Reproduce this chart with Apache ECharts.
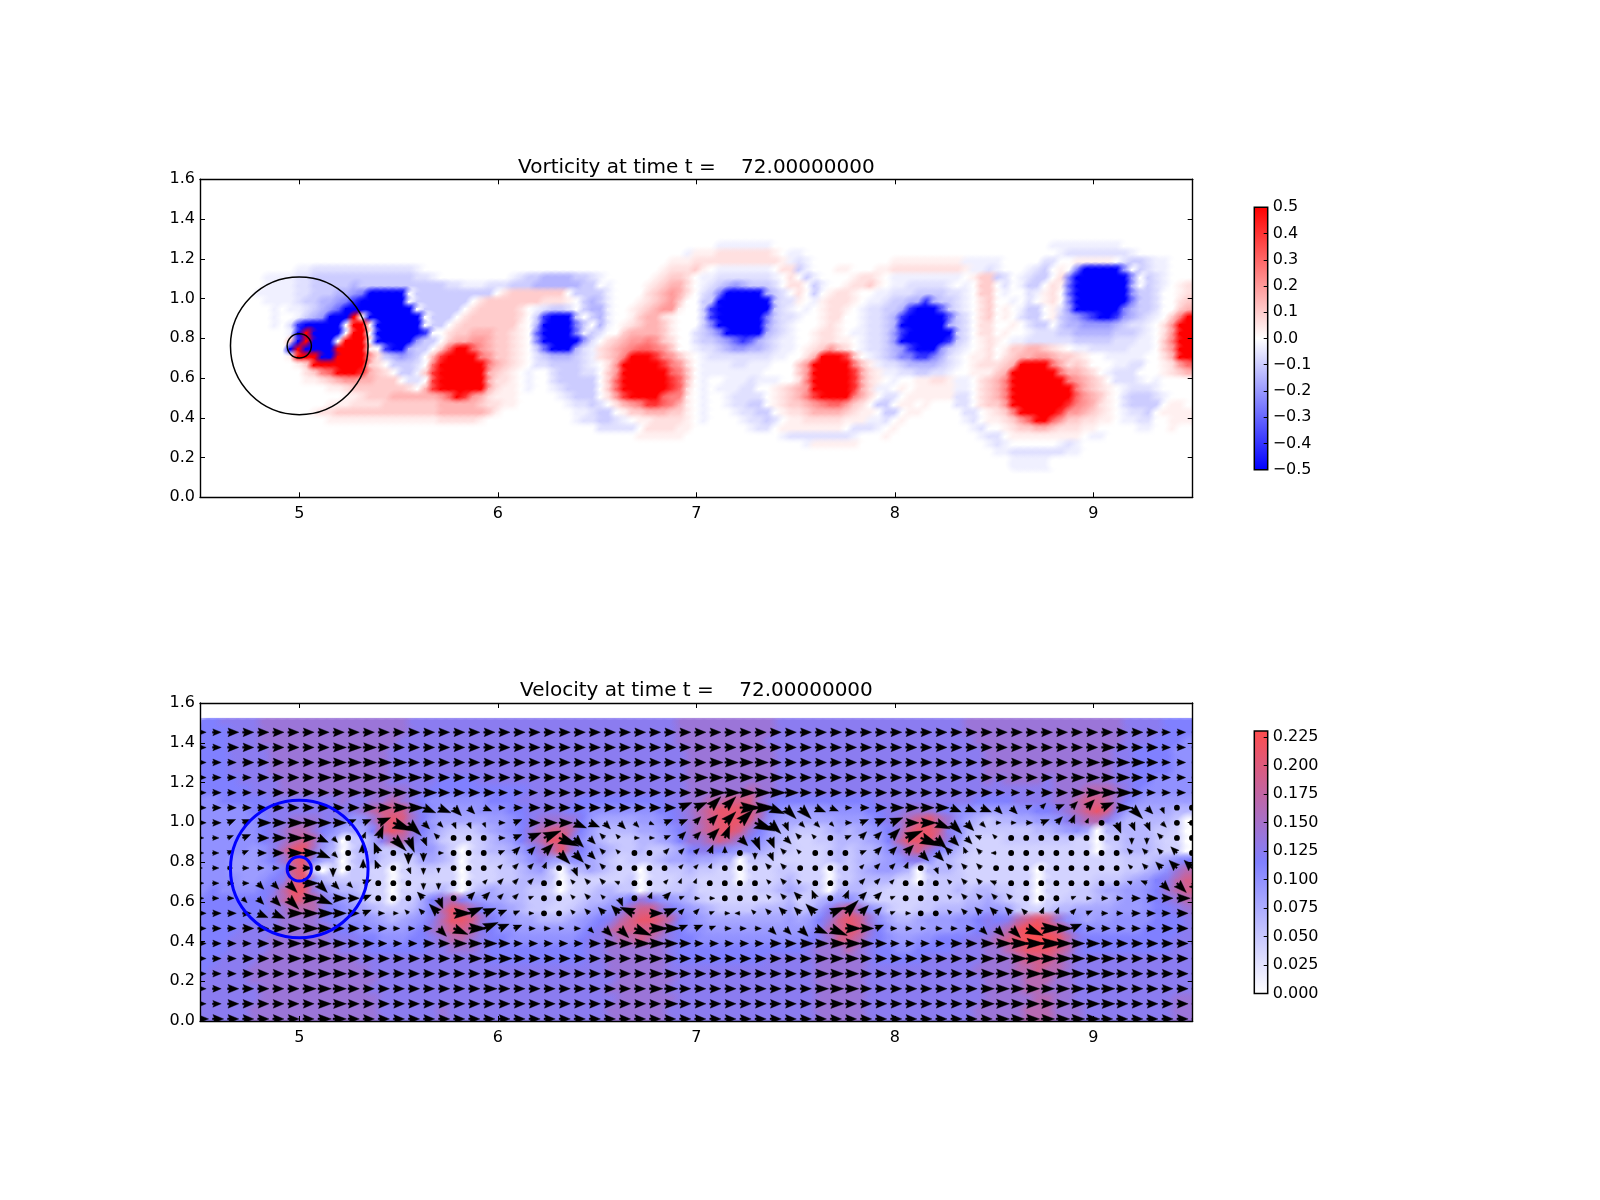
<!DOCTYPE html>
<html>
<head>
<meta charset="utf-8">
<title>Vorticity and velocity</title>
<script src="https://cdn.jsdelivr.net/npm/echarts@6/dist/echarts.min.js"></script>
<style>
	html, body { margin: 0; background: #fff; }
	#chart { width: 1600px; height: 1200px; }
</style>
</head>
<body>
<div id="chart"></div>
<script>
let vorticity_title = 'Vorticity at time t =    72.00000000';
let velocity_title = 'Velocity at time t =    72.00000000';
let x_ticks = [5, 6, 7, 8, 9];
let y_ticks = [0, 0.2, 0.4, 0.6, 0.8, 1.0, 1.2, 1.4, 1.6];
let vorticity_ticks = [-0.5, -0.4, -0.3, -0.2, -0.1, 0, 0.1, 0.2, 0.3, 0.4, 0.5];
let speed_ticks = [0, 0.025, 0.05, 0.075, 0.1, 0.125, 0.15, 0.175, 0.2, 0.225];
let vorticity_colors = ['#0000ff', '#ffffff', '#ff0000'];
let speed_colors = ['#ffffff', '#8080ff', '#ff4d4d'];
let black_circles = [[5, 0.762, 0.3465], [5, 0.762, 0.061]];
let blue_circles = [[5, 0.765, 0.3465], [5, 0.765, 0.061]];

// 涡量: 每个字符一格 0.04x0.04, 每组 5 格, 从 y=1.28 往下
let vorticity_levels = {
	'.': 0, 1: 0.03, 2: 0.06, 3: 0.1, 4: 0.15, 5: 0.2, 6: 0.25, 7: 0.3, 8: 0.4, 9: 0.5,
	a: -0.03, b: -0.06, c: -0.1, d: -0.15, e: -0.2, f: -0.25, g: -0.3, h: -0.4, i: -0.5,
};
let vorticity_rows = [
	'..... ..... ..... ..... ..... ..... ..... ..... ..... ..... ..... ..... ..... aaaaa aa... ..... ..... ..... ..... ..... ..... ..aaa aaaaa a.... .....',
	'..... ..... ..... ..... ..... ..... ..... ..... ..... ..... ..... ..... .a111 22222 221.a a.... ..... ..... ..... ..... ..... ...ab bbbbb bba.. .....',
	'..... ..... ..... ..... ..... ..... ..... ..... ..... ..... ..... ....1 11222 22222 2221a ba... ..... ..111 11111 1aaaa a.... .bb.. 11111 .bccb aa...',
	'..... ..... ..aab bbbbb bbbbb bba.. ..... ..... ..... ..... ..... ...12 2231. aaaaa aa.22 ca... 11... 11222 22222 21aab a...a bc.1. fiiii ie.cb aa...',
	'..... ...aa aabbc ccccc ccccc ccbba ..... ....a bccdd ddccb a.... ..123 32.aa bbbbb bba.2 .ca.. ..122 1.aaa aaaaa a.133 cb.ab cc.2f iiiii iie.c ba...',
	'..... ...aa aabbc ccccd ccccc ccccc cbbaa abbbc ccddd dddcc .a... .1234 42.ab cdedc ccb.2 2.ca. .1223 1.aab bbbba .a.33 .b.ac c.21g iiiii iid.c ba.12',
	'..... ..aaa aabbc ccdde fiiii i.ccc ccccc cc.23 33333 3.ccc ca... .2345 42.bc fiiii idcb. 2.c.1 221.. aabbb ccccb ba.33 .a..b a12.g iiiii iiecc b..12',
	'..... ...aa aabcc ddefh iiiii i.ccc cccc. 23333 33322 21.cd ca... 12345 3..cc iiiii iicbb 1.a12 221.a abccd dhdcc ba.23 ..a.b .12.f iiiii iifcc b..23',
	'..... ....a .aabc degii iiiii ii.cc ccc.2 33333 2.abc cb.cd da..1 23455 1..ch iiiii iicba .a.12 21.ab bccdh iiigc ba.23 .1.ac c.1be iiiii ifdcc b..34',
	'..... ....a ..acd eiii9 .iiii iii.c cc.23 33333 2.chi iic.c da..1 34421 ...ch iiiii ifcbb a..12 2..ab bcdhi iiiig cb.23 .1.bc c.1cd eghii hedcb a.369',
	'..... ....a .bhii iii.9 9.iii iii.c c.233 33333 1.dii iifc. da.12 34431 ...cf iiiii iecba ...12 1..ab bcdii iiiid cb.22 ..1.b cc.cd deeee dcbba .2599',
	'..... ..... .ai9i iii.9 9.iii iiih. .2334 44332 1.gii iifac b..34 44431 ..bcd fiiii idcba ..122 1.aab bcehi iiiii cb.22 .1..a bbbcc ddddd cccba .2599',
	'..... ..... .3i9i ii.99 9.iii iiecc .3445 54332 1.fii iiieb .2345 56532 ..bcc deghg dcbaa ..122 11.ab bceii iiiih cb.12 1.aab bbbbb ccccc bbbaa .3699',
	'..... ..... .i9ii ii999 91.hi idcc. 37997 54332 1.cgi iidba 23456 77653 ..abb cdeed dcbaa .1235 32.ab bcdeh iiiec ba.12 .1334 4321. aabbb bbaaa .3599',
	'..... ..... .1999 ii999 952cd edc.4 89999 65332 1.bcd ddcba 23469 99865 31.ab bbbbb bbaa. .2499 983.a bcdff hhfdb a.112 .2344 55433 21..a aaaa. .2499',
	'..... ..... ..139 99999 932.c ccb.7 99999 96432 1.bbc cccba .2599 99986 52.aa aabba aa... 35999 99631 abbcd dddcb a.122 23499 99642 32... aabb. .1257',
	'..... ..... ...23 67999 8432. cca38 99999 94321 .a..b cccbb .3599 99997 63.aa aaaaa a.... 35999 99842 1aabb ccbba ..111 34999 99964 432.a bbb.. .1234',
	'..... ..... ...11 23455 44333 .bb.8 99999 94221 .a..b ccccc .3799 99998 73.a. .aaab aaa.. 26999 99842 1.a.. 11221 aa.23 46999 99996 5432. bbba. a....',
	'..... ..... ..... .1123 33333 32.48 99999 94211 .a..a bcccc .3799 99998 72.a. aaabb ..123 45999 99842 aa.1. 11111 aa.23 46999 99999 64321 .abbb a....',
	'..... ..... ..... ...11 23334 44444 57985 42111 ..... abccc .2589 99976 61.a. .abbb b.123 46899 99642 .bb.1 11111 bb.23 46999 99999 75431 .bccc ba...',
	'..... ..... ..... .1112 22233 33333 44444 32211 ..... .abbc b.245 68876 41.a. .abbc c.123 34567 7532. cc.11 .1... bb.23 35999 99998 65421 .bccc c.11.',
	'..... ..... ....1 22333 33333 33333 44444 431.. ..... ..aab cc.13 34443 31.a. ..abb cc.12 23444 43211 .cc.1 1.... .bb.1 23699 99985 54321 .abbc .1111',
	'..... ..... ..... .1111 11111 11111 22222 1.... ..... ..abb ccba. 11222 21.a. ...ab bcb.1 12222 2111a ab.1. ..... .ab.1 12357 99753 32211 .aabb ..111',
	'..... ..... ..... ..... ..... ..... ..... ..... ..... ..... bbbbb .2222 11... ....a bb.11 11111 1.bbb a.1.. ..... ..ab. .1233 44322 211.. ...aa ..1..',
	'..... ..... ..... ..... ..... ..... ..... ..... ..... ..... ..... 11111 1.... ..... ...ab bbbbb bba.. .1... ..... ...ab b.111 11111 1.aa. ..... .....',
	'..... ..... ..... ..... ..... ..... ..... ..... ..... ..... ..... ..... ..... ..... ..... .a111 111.. ..... ..... ....a ba... ...ab a.... ..... .....',
	'..... ..... ..... ..... ..... ..... ..... ..... ..... ..... ..... ..... ..... ..... ..... ..... ..... ..... ..... ..... aabbb bbbba a.... ..... .....',
	'..... ..... ..... ..... ..... ..... ..... ..... ..... ..... ..... ..... ..... ..... ..... ..... ..... ..... ..... ..... ..aaa aa... ..... ..... .....',
];

// 速度大小: 每个字符一格 0.05x0.05, 每组 5 格, 从 y=1.525 往下
let speed_levels = {
	z: 0, 0: 0.04, 1: 0.05, 2: 0.065, 3: 0.08, 4: 0.09, 5: 0.1, 6: 0.115, 7: 0.125, 8: 0.14, 9: 0.165, a: 0.19, b: 0.21, c: 0.225,
};
let speed_rows = [
	'66777 78888 88888 88888 87777 77777 77777 77777 77777 77788 88888 88877 77777 77777 77777 77888 88888 88888 88877 77666',
	'66677 78888 88888 88888 87777 77777 77777 77777 77777 77788 88888 88877 77777 77777 77777 77888 88888 88888 88877 77666',
	'66677 78888 88888 88888 77777 77777 77777 77777 77777 77788 88888 88777 77777 77777 77777 77788 88888 88888 88877 76665',
	'66677 77888 88888 88887 77777 77777 77777 77777 77777 77778 88888 88877 77777 77777 77777 77778 88888 88888 88776 66655',
	'66677 77888 88888 88887 77777 77777 77777 77777 77777 77778 88888 88877 77777 77777 77777 77778 88888 88888 88776 66655',
	'66677 77888 88888 88887 77777 77777 77777 77777 77777 77778 88888 88877 77777 77777 77777 77778 88888 88888 88776 66655',
	'66667 77788 88888 88887 77776 66677 77777 77777 77777 77778 88888 88877 77777 77777 77777 77778 78888 78888 88776 65555',
	'66666 77788 88888 88888 87766 66666 66677 77777 77777 77778 88888 98877 77777 77777 77777 77777 77777 78889 99876 55555',
	'55666 66777 77778 77889 87655 55556 66777 77766 66666 66778 899aa a8766 66666 66677 77777 77766 66777 7889a a9865 44444',
	'55555 66777 77777 789aa a8654 44455 56677 77665 55555 56678 9abbb a9654 44455 55667 78887 65544 44556 6789a ba743 33322',
	'55555 56778 88776 458ab a8643 33334 45678 88864 33334 45678 9abbb a8543 33334 44567 89ab9 85321 22334 45789 97422 2221z',
	'55555 56789 98653 336ab a8642 11123 45689 aa964 22223 34568 9abba 86422 11123 23456 8abba 75211 11112 23453 z2222 2110z',
	'55555 56789 a953z 11379 97531 00012 34689 bb753 21112 23468 89a98 65321 00112 22346 9bbb9 74100 01111 11100 z1122 2100z',
	'55555 4579b b842z 12311 24542 0z012 23468 9b864 32112 11236 77654 43211 00012 12235 79a86 42100 00000 00000 z0122 2100z',
	'55544 4568a b632z 12310 01332 1z001 12357 43553 21011 12334 3322z 11100 00012 12234 57752 21000 00000 00000 00011 12356',
	'55544 4456a b1z1z 1100z 00110 0z000 11234 1z223 2100z 00112 1100z 00011 000z1 12344 32z22 21000 0000z 00000 00011 23589',
	'55554 4567a b5211 1100z 00000 0z000 11222 1z000 0001z 00011 0000z 00012 000z1 12222 00z11 11000 0000z 00000 11123 4679a',
	'56555 5679b b8532 2100z 00112 0z123 22211 0z001 2211z 00112 00000 01123 210z2 22110 00011 12122 1100z 00011 23344 5689a',
	'66666 6689b a9754 3200z 11368 97543 32211 10012 23468 75432 10000 00012 01234 53100 00011 11223 2100z 00111 22344 56789',
	'66666 66789 99765 43211 12469 ba865 43211 00123 4579a a8654 32111 12223 12479 a8531 00112 22334 43100 12233 33444 56678',
	'66666 67788 88765 55432 34579 bba86 54332 22345 679ab ba965 43333 33334 3468a ba853 22344 45567 679ab a8543 44555 56667',
	'66667 77788 88876 65544 45689 aa976 55444 44456 79aaa a9765 54444 44444 4579a ba864 33344 45567 89bcc ba865 55555 66667',
	'66677 77888 88877 76655 56678 99876 65555 55567 7899a 98766 55555 55555 5678a a9765 44556 66778 9abcc cb976 66666 66677',
	'66677 77888 88887 77666 66677 88876 66666 66667 78888 88766 66666 66666 67888 98766 55666 67778 89abb ba976 66666 66677',
	'66777 78888 88888 87777 77777 77776 66666 66667 78888 88766 66666 66777 77888 88766 66677 77778 889aa a9877 77777 77777',
	'67777 88888 88888 88777 77777 77777 77777 77777 78888 88777 77777 77777 77888 88777 77777 77788 8899a 99877 77777 77777',
	'77777 88888 88888 88877 77777 77777 77777 77777 77888 88877 77777 77777 77888 88777 77777 77778 88899 98877 77777 77777',
	'77777 78888 88888 88777 77777 77777 77777 77777 78888 88777 77777 77777 77888 88777 77777 77778 88899 88877 77777 77777',
	'77777 78888 88888 88877 77777 77777 77777 77777 77888 88877 77777 77777 77888 88777 77777 77778 88889 98877 77777 77788',
	'77777 88888 88888 88877 77778 77777 77777 77777 78888 88777 77777 77777 77888 88777 77777 77788 88899 98887 77777 77788',
	'77777 88888 88888 88877 77778 77777 77777 77777 78888 88777 77777 77777 77888 88777 77777 77788 88899 98887 77777 77788',
];

// 箭头: 每个数字对应一档速度, 0 画成圆点; 方向 a=东, 每个字母逆时针转 22.5 度
let arrow_speeds = { 0: 0, 1: 0.055, 2: 0.07, 3: 0.095, 4: 0.122, 5: 0.145, 6: 0.17, 7: 0.2, 8: 0.235 };
let east_row = 'aaaaa aaaaa aaaaa aaaaa aaaaa aaaaa aaaaa aaaaa aaaaa aaaaa aaaaa aaaaa aaaaa aa';
let arrow_speed_rows = [
	'33444 44444 44444 44444 44444 44444 44444 44444 44444 44444 44444 44444 44443 33',
	'33444 44445 55444 44444 44444 44444 44444 45444 44444 44444 44444 44444 54443 33',
	'33344 44455 55554 44444 44444 44444 44445 55544 44444 44444 44444 44445 55543 33',
	'33334 44455 55555 44444 44444 44444 44455 55554 44444 44444 44444 44455 55443 33',
	'33333 44444 55555 54444 33344 44444 44456 66665 44444 44444 44433 34456 66433 32',
	'33333 44444 45566 55433 23444 44444 44556 68866 64323 45555 44433 22334 56632 00',
	'33335 56655 33587 32221 23455 54332 13334 67863 22123 45566 64211 23331 04332 00',
	'22234 56542 02576 32000 23578 53211 12335 54543 21023 35786 43210 00000 00222 00',
	'22223 46652 04404 31000 23356 53210 02223 20232 10002 33444 32210 00000 00222 30',
	'12122 23303 03302 21000 12220 32200 00111 00022 00001 22202 22200 00000 00123 44',
	'22223 35653 23000 22001 22200 12210 01110 00012 10002 21000 12220 00000 00124 55',
	'22223 46765 43000 34033 22100 12130 23111 00012 33033 31000 12222 00011 22344 55',
	'33334 56665 43211 25765 32100 12346 55221 11123 35674 31100 12333 22222 22333 44',
	'33344 55654 43322 34676 43221 22457 76332 22233 45765 32212 23345 78643 33334 44',
	'33334 45555 44333 44555 43333 34556 65433 33344 55665 43333 44567 78655 44444 44',
	'33344 45555 44444 44455 54444 44445 55444 44444 45554 44444 44556 66655 54444 44',
	'33344 44555 44444 44445 44444 44444 55444 44444 45554 44444 44555 66655 54444 44',
	'33444 44555 44444 44445 44444 44444 55444 44444 45554 44444 44555 55555 54444 44',
	'33444 44455 44444 44444 44444 44444 45444 44444 44544 44444 44555 55555 54444 44',
	'44444 44455 44444 44444 44444 44444 44444 44444 44444 44444 44455 55555 44444 44',
];
let arrow_dir_rows = [
	east_row, east_row, east_row, east_row, east_row,
	'aaaaa aaaaa aaaaa ppoop aaaaa aaaaa aabbc caapo oppaa aaaaa pppoo bcbcc baoon aa',
	'aabba aaaaa bbbpo oonnn abaaa ppooo pbbcc ccpon oooab bbaap oooaa abcdd annno aa',
	'aabba aaapo addon ngaaa abbbp oogga abccc donno ggabc ccbpo oohga aaaaa aammg aa',
	'aabba aaapo aefam maaaa bccco oogga acccd eamng gaaab cccoo gfgia aaaaa aaggg ga',
	'aaaaa aaaam aefan mmaaa cccda nggaa aaccd aaagg aaaac ccdan gggaa aaaaa aaggg gg',
	'aaaao ooaoo obaaa mmaac cccaa gggha acdda aaagg gaaac ccaaa gggha aaaaa aahho oo',
	'aaaoo ooapa abaaa gnacc ccbaa gggna dcbaa aaagg gfadc cbaaa ggggg aaaba aaaaa aa',
	'aaaap paaaa abaag ggabb bbaaa ggggh abccb aiggg ggbcc cbaaa ggggg gddcb aaaaa aa',
	'aaaaa aaaaa aaaaa aopab bbaaa aooop aabbb aaaoo oppaa baaaa aaooo paaba aaaaa aa',
	east_row, east_row, east_row, east_row, east_row, east_row,
];

let cell_x0 = 4.5;
let vorticity_cell = 0.04;
let vorticity_top = 1.28;
let speed_cell = 0.05;
let speed_top = 1.525;
let arrow_x0 = 4.487;
let arrow_step = 0.0759;
let arrow_top = 1.4526;
let arrow_px = 92; // 每单位速度对应的像素

// 把字符行展开成 [x, y, value]
function build_cells(rows, levels, cell, top) {
	let out = [];
	rows.forEach((row, j) => {
		row.split(' ').forEach((group, g) => {
			for (let c = 0; c < group.length; c++) {
				out.push([cell_x0 + (g * 5 + c) * cell, top - (j + 1) * cell, levels[group[c]]]);
			}
		});
	});
	return out;
}

function build_arrows() {
	let out = [];
	arrow_speed_rows.forEach((row, j) => {
		let speeds = row.replace(/ /g, '');
		let dirs = arrow_dir_rows[j].replace(/ /g, '');
		for (let i = 0; i < speeds.length; i++) {
			let angle = (dirs.charCodeAt(i) - 97) * 22.5;
			out.push([arrow_x0 + i * arrow_step, arrow_top - j * arrow_step, arrow_speeds[speeds[i]], angle]);
		}
	});
	return out;
}

// 每格一个方块, 再盖一层向外变透明的圆斑, 让格子边缘柔和
function render_cell(cell, top) {
	return (params, api) => {
		let a = api.coord([api.value(0) + cell * 0.25, api.value(1) - cell * 0.25]);
		let b = api.coord([api.value(0) + cell * 1.25, api.value(1) + cell * 0.75]);
		let limit = api.coord([api.value(0), top])[1];
		let w = b[0] - a[0];
		let h = a[1] - b[1];
		let color = api.visual('color');
		let blob = new echarts.graphic.RadialGradient((a[0] + b[0]) / 2, (a[1] + b[1]) / 2, w * 1.4, [
			{ offset: 0, color: color },
			{ offset: 0.36, color: color },
			{ offset: 1, color: echarts.color.modifyAlpha(color, 0) },
		], true);
		let blob_y = Math.max(b[1] - h * 0.9, limit);
		return {
			type: 'group',
			children: [
				{
					type: 'rect',
					shape: { x: Math.round(a[0]), y: Math.round(b[1]), width: Math.round(b[0]) - Math.round(a[0]), height: Math.round(a[1]) - Math.round(b[1]) },
					style: { fill: color },
				},
				{
					type: 'rect',
					shape: { x: a[0] - w * 0.9, y: blob_y, width: w * 2.8, height: a[1] + h * 0.9 - blob_y },
					style: { fill: blob },
				},
			],
		};
	};
}

function render_arrow(params, api) {
	let p = api.coord([api.value(0), api.value(1)]);
	let speed = api.value(2);
	if (speed === 0) {
		return { type: 'circle', shape: { cx: p[0], cy: p[1], r: 2.9 }, style: { fill: '#000' } };
	}
	let len = speed * arrow_px;
	let half = Math.min(len * 0.78, 6 + len * 0.24) / 2;
	let shape = [[0, -0.9], [len * 0.16, -0.9], [len * 0.04, -half], [len, 0], [len * 0.04, half], [len * 0.16, 0.9], [0, 0.9]];
	let t = api.value(3) * Math.PI / 180;
	let cos = Math.cos(t);
	let sin = Math.sin(t);
	let points = shape.map((q) => [p[0] + q[0] * cos + q[1] * sin, p[1] - q[0] * sin + q[1] * cos]);
	return { type: 'polygon', shape: { points: points }, style: { fill: '#000', stroke: '#000', lineWidth: 0.4 } };
}

function render_circle(color, width) {
	return (params, api) => {
		let p = api.coord([api.value(0), api.value(1)]);
		let r = api.size([api.value(2), 0])[0];
		return {
			type: 'circle',
			shape: { cx: p[0], cy: p[1], r: r },
			style: { fill: 'none', stroke: color, lineWidth: width },
		};
	};
}

function render_colorbar(colors) {
	return (params, api) => {
		let a = api.coord([0, api.value(0)]);
		let b = api.coord([1, api.value(1)]);
		let stops = colors.map((color, i) => ({ offset: i / (colors.length - 1), color: color }));
		return {
			type: 'rect',
			shape: { x: a[0], y: b[1], width: b[0] - a[0], height: a[1] - b[1] },
			style: {
				fill: new echarts.graphic.LinearGradient(0, 1, 0, 0, stops),
				stroke: '#000',
				lineWidth: 1.5,
			},
		};
	};
}

let font = 'DejaVu Sans';
let tick_font = 16;

function plot_x(grid, position, show_label) {
	return {
		type: 'value',
		gridIndex: grid,
		position: position,
		min: 4.5,
		max: 9.5,
		z: 5,
		splitLine: { show: false },
		axisLine: { show: true, onZero: false, lineStyle: { color: '#000', width: 1.4 } },
		axisTick: { show: true, inside: true, length: 5, customValues: x_ticks, lineStyle: { color: '#000' } },
		axisLabel: { show: show_label, customValues: x_ticks, margin: 9, color: '#000', fontFamily: font, fontSize: tick_font },
	};
}

function plot_y(grid, position, show_label) {
	return {
		type: 'value',
		gridIndex: grid,
		position: position,
		min: 0,
		max: 1.6,
		z: 5,
		splitLine: { show: false },
		axisLine: { show: true, onZero: false, lineStyle: { color: '#000', width: 1.4 } },
		axisTick: { show: true, inside: true, length: 5, customValues: y_ticks, lineStyle: { color: '#000' } },
		axisLabel: {
			show: show_label,
			customValues: y_ticks,
			margin: 5,
			color: '#000',
			fontFamily: font,
			fontSize: tick_font,
			formatter: (v) => v.toFixed(1),
		},
	};
}

function bar_x(grid) {
	return { type: 'value', gridIndex: grid, min: 0, max: 1, show: false };
}

function bar_y(grid, min, max, ticks, digits) {
	return {
		type: 'value',
		gridIndex: grid,
		position: 'right',
		min: min,
		max: max,
		z: 5,
		splitLine: { show: false },
		axisLine: { show: false, onZero: false },
		axisTick: { show: true, inside: true, length: 4, customValues: ticks, lineStyle: { color: '#000' } },
		axisLabel: {
			customValues: ticks,
			margin: 5,
			color: '#000',
			fontFamily: font,
			fontSize: tick_font,
			formatter: (v) => (v < 0 ? '\u2212' : '') + Math.abs(v).toFixed(digits),
		},
	};
}

function title_item(text, top) {
	return {
		text: text,
		left: 691.4,
		top: top,
		textAlign: 'center',
		textStyle: { color: '#000', fontFamily: font, fontSize: 20, fontWeight: 'normal' },
	};
}

function custom_series(x_index, y_index, data, render, clip) {
	return {
		type: 'custom',
		xAxisIndex: x_index,
		yAxisIndex: y_index,
		clip: clip,
		progressive: 0,
		data: data,
		renderItem: render,
	};
}

let chart = echarts.init(document.getElementById('chart'), null, { renderer: 'canvas' });
chart.setOption({
	animation: false,
	backgroundColor: '#fff',
	title: [title_item(vorticity_title, 153), title_item(velocity_title, 676)],
	grid: [
		{ left: 200, top: 179.3, width: 992.7, height: 318 },
		{ left: 200, top: 703, width: 992.7, height: 318 },
		{ left: 1254.3, top: 207.3, width: 13.4, height: 262.4 },
		{ left: 1254.3, top: 731, width: 13.4, height: 262.4 },
	],
	xAxis: [plot_x(0, 'bottom', true), plot_x(0, 'top', false), plot_x(1, 'bottom', true), plot_x(1, 'top', false), bar_x(2), bar_x(3)],
	yAxis: [
		plot_y(0, 'left', true),
		plot_y(0, 'right', false),
		plot_y(1, 'left', true),
		plot_y(1, 'right', false),
		bar_y(2, -0.5, 0.5, vorticity_ticks, 1),
		bar_y(3, 0, 0.2302, speed_ticks, 3),
	],
	visualMap: [
		{ show: false, type: 'continuous', seriesIndex: 0, dimension: 2, min: -0.5, max: 0.5, inRange: { color: vorticity_colors } },
		{ show: false, type: 'continuous', seriesIndex: 3, dimension: 2, min: 0, max: 0.2302, inRange: { color: speed_colors } },
	],
	series: [
		custom_series(0, 0, build_cells(vorticity_rows, vorticity_levels, vorticity_cell, vorticity_top), render_cell(vorticity_cell, 1.6), true),
		custom_series(0, 0, black_circles, render_circle('#000', 1.5), false),
		custom_series(4, 4, [[-0.5, 0.5]], render_colorbar(vorticity_colors), false),
		custom_series(2, 2, build_cells(speed_rows, speed_levels, speed_cell, speed_top), render_cell(speed_cell, speed_top), true),
		custom_series(2, 2, build_arrows(), render_arrow, true),
		custom_series(2, 2, blue_circles, render_circle('#0000ff', 3), false),
		custom_series(5, 5, [[0, 0.2302]], render_colorbar(speed_colors), false),
	],
});
</script>
</body>
</html>
